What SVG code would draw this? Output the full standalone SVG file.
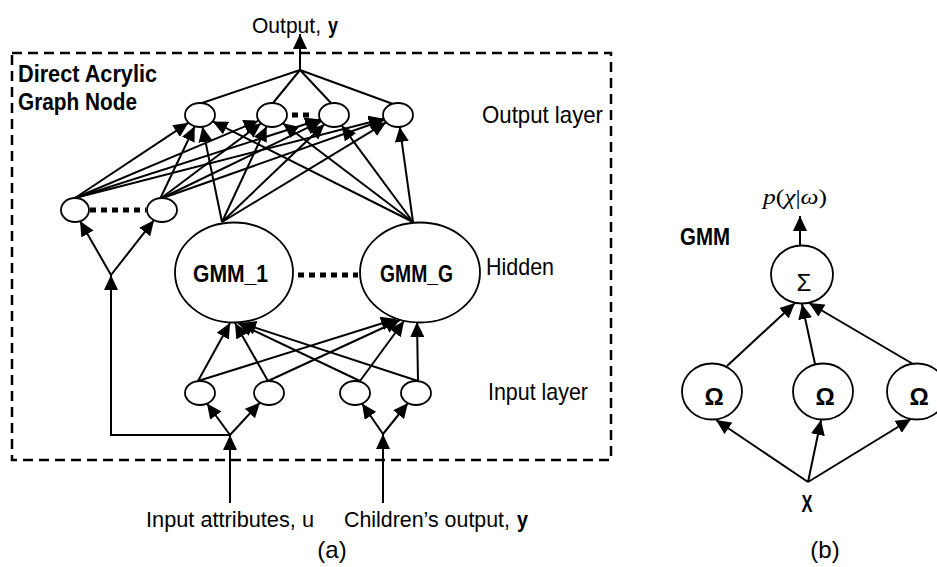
<svg xmlns="http://www.w3.org/2000/svg" width="937" height="567" viewBox="0 0 937 567">
  <style>
    .t { font-family: 'Liberation Sans Narrow', 'Liberation Sans', Arial, sans-serif; font-size: 24px; fill: #000; }
    .s { font-size: 22px; }
    .b { font-weight: bold; }
    .serif { font-family: 'Liberation Serif', 'Times New Roman', serif; font-size: 22px; fill: #000; }
    .node { fill: #fff; stroke: #000; stroke-width: 1.8; }
    .c { stroke: #000; stroke-width: 2; fill: none; }
    .a { marker-end: url(#ah); }
    .dots { stroke: #000; stroke-width: 5; stroke-dasharray: 6 5; fill: none; }
    .frame { fill: none; stroke: #000; stroke-width: 2.5; stroke-dasharray: 10 6; }
  </style>
  <defs>
    <marker id="ah" markerUnits="userSpaceOnUse" markerWidth="15" markerHeight="14" refX="15" refY="7" orient="auto">
      <path d="M0,0 L15,7 L0,14 z" fill="#000"/>
    </marker>
  </defs>
  <rect width="937" height="567" fill="#fff"/>

  <!-- (a) DAG node frame -->
  <rect class="frame" x="12" y="53" width="599" height="407"/>
  <text class="t b" x="18" y="82" textLength="139" lengthAdjust="spacingAndGlyphs">Direct Acrylic</text>
  <text class="t b" x="18" y="110" textLength="119" lengthAdjust="spacingAndGlyphs">Graph Node</text>
  <text class="t s" x="252" y="33" textLength="69" lengthAdjust="spacingAndGlyphs">Output,</text>
  <text class="t s b" x="328" y="33" textLength="10" lengthAdjust="spacingAndGlyphs">y</text>
  <text class="t" x="482" y="123" textLength="121" lengthAdjust="spacingAndGlyphs">Output layer</text>
  <text class="t" x="486" y="275" textLength="68" lengthAdjust="spacingAndGlyphs">Hidden</text>
  <text class="t" x="488" y="400" textLength="100" lengthAdjust="spacingAndGlyphs">Input layer</text>
  <text class="t s" x="146" y="527" textLength="168" lengthAdjust="spacingAndGlyphs">Input attributes, u</text>
  <text class="t s" x="344" y="527" textLength="166" lengthAdjust="spacingAndGlyphs">Children’s output,</text>
  <text class="t s b" x="517" y="527" textLength="11" lengthAdjust="spacingAndGlyphs">y</text>
  <text class="t" x="332" y="558" text-anchor="middle">(a)</text>

  <!-- connectors -->
  <g id="connectors">
    <!-- output layer to network output -->
    <path class="c a" d="M300,70 L300,34"/>
    <path class="c" d="M300,70 L202,103 M300,70 L273,103 M300,70 L331,103 M300,70 L393,104"/>
    <!-- hidden to output layer -->
    <path class="c a" d="M75,198 L188.5,122.7"/>
    <path class="c a" d="M75,198 L258.7,120.6"/>
    <path class="c a" d="M75,198 L320.1,119.5"/>
    <path class="c a" d="M75,198 L383.7,118.7"/>
    <path class="c a" d="M160,199 L194.7,126.2"/>
    <path class="c a" d="M160,199 L261.1,123.2"/>
    <path class="c a" d="M160,199 L321.2,121.2"/>
    <path class="c a" d="M160,199 L384.3,119.8"/>
    <path class="c a" d="M222,222 L202.4,126.8"/>
    <path class="c a" d="M222,222 L266.7,126.2"/>
    <path class="c a" d="M222,222 L324.4,124.2"/>
    <path class="c a" d="M222,222 L386.1,122.3"/>
    <path class="c a" d="M413,222 L212.7,121.4"/>
    <path class="c a" d="M413,222 L282.9,123.3"/>
    <path class="c a" d="M413,222 L341.6,125.3"/>
    <path class="c a" d="M413,222 L399.7,126.9"/>
    <!-- input layer to GMM hidden units -->
    <path class="c a" d="M198,381 L230,323"/>
    <path class="c a" d="M198,381 L396,319"/>
    <path class="c a" d="M268,381 L235,323"/>
    <path class="c a" d="M268,381 L400,320"/>
    <path class="c a" d="M360,381 L238,323"/>
    <path class="c a" d="M360,381 L404,321"/>
    <path class="c a" d="M418,381 L241,323"/>
    <path class="c a" d="M418,381 L417,322"/>
    <!-- input attributes feed -->
    <path class="c a" d="M230,503 L230,435"/>
    <path class="c a" d="M230,435 L207,403.5"/>
    <path class="c a" d="M230,435 L260,402.5"/>
    <path class="c a" d="M230,435 L111,435 L111,275"/>
    <path class="c a" d="M111,275 L80,221"/>
    <path class="c a" d="M111,275 L154,220.2"/>
    <!-- children's output feed -->
    <path class="c a" d="M383,503 L383,434"/>
    <path class="c a" d="M383,434 L362,403.5"/>
    <path class="c a" d="M383,434 L408,403"/>
    <!-- (b) GMM -->
    <path class="c a" d="M800,246 L800,216"/>
    <path class="c a" d="M727,366 L795,303"/>
    <path class="c a" d="M815,364 L802,304"/>
    <path class="c a" d="M913,364 L809,303"/>
    <path class="c a" d="M808,482 L716,420"/>
    <path class="c a" d="M808,482 L821,420"/>
    <path class="c a" d="M808,482 L911,419"/>
  </g>

  <!-- output layer -->
  <g id="out1"><ellipse class="node" cx="200" cy="115" rx="15" ry="12"/></g>
  <g id="out2"><ellipse class="node" cx="272" cy="115" rx="15" ry="12"/></g>
  <g id="out3"><ellipse class="node" cx="334" cy="115" rx="15" ry="12"/></g>
  <g id="out4"><ellipse class="node" cx="398" cy="115" rx="15" ry="12"/></g>
  <path class="dots" d="M292,115 L312,115"/>

  <!-- hidden layer -->
  <g id="h1"><ellipse class="node" cx="75" cy="210" rx="14" ry="12"/></g>
  <g id="h2"><ellipse class="node" cx="162" cy="210" rx="15" ry="12"/></g>
  <path class="dots" d="M90,210 L146,210"/>
  <g id="gmm1">
    <ellipse class="node" cx="234" cy="272.5" rx="59" ry="50"/>
    <text class="t b" x="193" y="282" textLength="75" lengthAdjust="spacingAndGlyphs">GMM_1</text>
  </g>
  <g id="gmmG">
    <ellipse class="node" cx="420" cy="272.5" rx="60" ry="50"/>
    <text class="t b" x="380" y="282" textLength="73" lengthAdjust="spacingAndGlyphs">GMM_G</text>
  </g>
  <path class="dots" d="M298,275 L358,275"/>

  <!-- input layer -->
  <g id="in1"><ellipse class="node" cx="200" cy="393" rx="15" ry="12"/></g>
  <g id="in2"><ellipse class="node" cx="269" cy="393" rx="15" ry="12"/></g>
  <g id="in3"><ellipse class="node" cx="355" cy="393" rx="15" ry="12"/></g>
  <g id="in4"><ellipse class="node" cx="416" cy="393" rx="15" ry="12"/></g>

  <!-- (b) GMM unit -->
  <text class="t b" x="680" y="245" textLength="50" lengthAdjust="spacingAndGlyphs">GMM</text>
  <text class="serif" x="763" y="204" textLength="64" lengthAdjust="spacingAndGlyphs"><tspan font-style="italic">p</tspan>(<tspan font-style="italic">χ</tspan>|<tspan font-style="italic">ω</tspan>)</text>
  <g id="sum">
    <ellipse class="node" cx="802" cy="274.5" rx="31" ry="29"/>
    <text class="t" x="804" y="291" text-anchor="middle" font-size="26">Σ</text>
  </g>
  <g id="omega1">
    <ellipse class="node" cx="712" cy="391.5" rx="30" ry="28"/>
    <text class="t b" x="714" y="405" text-anchor="middle" font-size="22">Ω</text>
  </g>
  <g id="omega2">
    <ellipse class="node" cx="823" cy="391.5" rx="30" ry="28"/>
    <text class="t b" x="825" y="405" text-anchor="middle" font-size="22">Ω</text>
  </g>
  <g id="omega3">
    <ellipse class="node" cx="917" cy="391.5" rx="30" ry="28"/>
    <text class="t b" x="919" y="405" text-anchor="middle" font-size="22">Ω</text>
  </g>
  <text class="t b" x="807" y="512" text-anchor="middle" textLength="11" lengthAdjust="spacingAndGlyphs">X</text>
  <text class="t" x="825" y="558" text-anchor="middle">(b)</text>
</svg>
